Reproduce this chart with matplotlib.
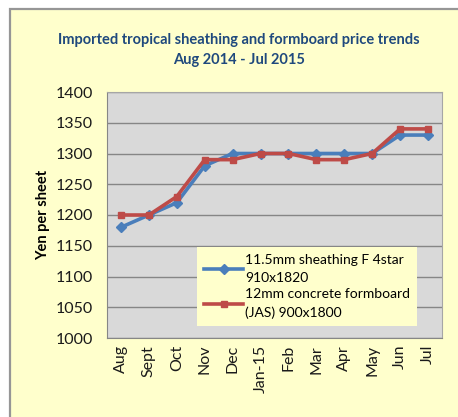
import matplotlib
matplotlib.use('Agg')
import matplotlib.pyplot as plt
from matplotlib.patches import Rectangle

months = ['Aug', 'Sept', 'Oct', 'Nov', 'Dec', 'Jan-15', 'Feb', 'Mar', 'Apr', 'May', 'Jun', 'Jul']
sheathing = [1180, 1200, 1220, 1280, 1300, 1300, 1300, 1300, 1300, 1300, 1330, 1330]
formboard = [1200, 1200, 1230, 1290, 1290, 1300, 1300, 1290, 1290, 1300, 1340, 1340]
yticks = [1000, 1050, 1100, 1150, 1200, 1250, 1300, 1350, 1400]

plt.rcParams['font.family'] = ['Lato', 'DejaVu Sans']

W, H = 458, 417
fig = plt.figure(figsize=(W / 100, H / 100), dpi=100)
fig.patch.set_facecolor('white')

# yellow chart frame (cut off at the right and bottom)
fig.patches.append(Rectangle((10 / W, -0.05), 1.0, 1 - 9 / H + 0.05,
                             transform=fig.transFigure, facecolor='#FFFFCC',
                             edgecolor='#969696', linewidth=1.6, zorder=-5))

ax = fig.add_axes([107 / W, 1 - 338 / H, 335 / W, 246 / H])
ax.set_facecolor('#D9D9D9')

x = range(len(months))
ax.plot(x, sheathing, color='#4A7EBB', linewidth=2.6, marker='D', markersize=5,
        label='11.5mm sheathing F 4star\n910x1820', zorder=3)
ax.plot(x, formboard, color='#BE4B48', linewidth=2.6, marker='s', markersize=5,
        label='12mm concrete formboard\n(JAS) 900x1800', zorder=4)

ax.set_ylim(1000, 1400)
ax.set_xlim(-0.5, len(months) - 0.5)
ax.set_yticks(yticks)
ax.set_xticks(list(x))
ax.set_xticklabels(months, rotation=90)
ax.tick_params(axis='both', length=0, labelsize=11.5, colors='#1a1a1a')
ax.tick_params(axis='y', pad=10)
ax.tick_params(axis='x', pad=5)
ax.grid(axis='y', color='#868686', linewidth=1)
ax.set_axisbelow(True)
for s in ax.spines.values():
    s.set_color('#A6A6A6')
ax.spines['left'].set_color('#868686')
ax.spines['bottom'].set_color('#868686')

ax.set_ylabel('Yen per sheet', fontsize=10.5, fontweight='bold', labelpad=4)

fig.text(239 / W, 1 - 50 / H, 'Imported tropical sheathing and formboard price trends\nAug 2014 - Jul 2015',
         ha='center', va='center', fontsize=10.5, fontweight='bold', color='#1F497D',
         linespacing=1.5)

leg = ax.legend(loc='lower left', bbox_to_anchor=(0.269, 0.049), fontsize=10,
                frameon=True, fancybox=False, borderaxespad=0, handlelength=2.8,
                handletextpad=0.15, borderpad=0.5, labelspacing=0.3)
for t in leg.get_texts():
    t.set_linespacing(1.6)
leg.get_frame().set_facecolor('#FFFFCC')
leg.get_frame().set_edgecolor('none')
leg.get_frame().set_alpha(1)

fig.savefig('out.png', dpi=100)
